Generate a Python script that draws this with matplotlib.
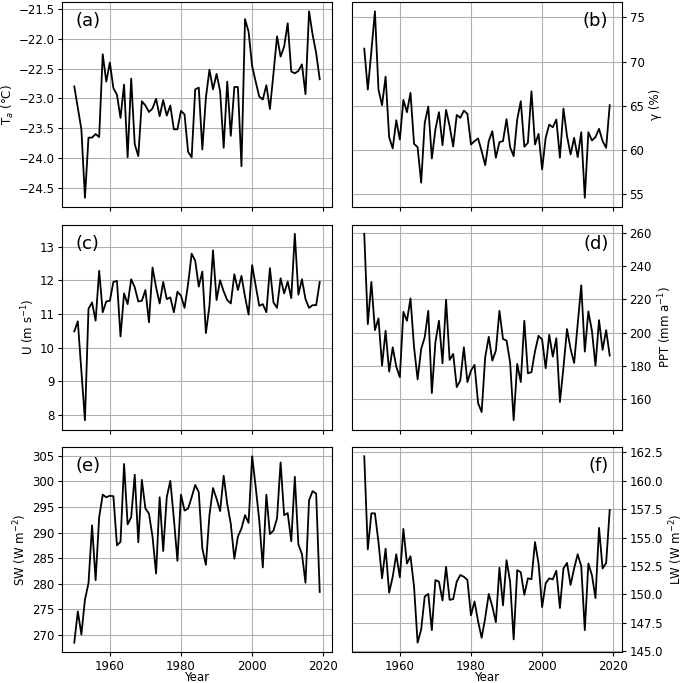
import numpy as np
import matplotlib.pyplot as plt
from matplotlib.ticker import MultipleLocator

years = np.arange(1950, 2020)

ta = [-22.80, -23.16, -23.52, -24.67, -23.66, -23.66, -23.60, -23.65, -22.26, -22.72,
      -22.40, -22.83, -22.94, -23.33, -22.77, -23.99, -22.67, -23.77, -23.97, -23.05,
      -23.12, -23.23, -23.17, -23.01, -23.30, -23.03, -23.29, -23.12, -23.52, -23.52,
      -23.21, -23.27, -23.90, -23.99, -22.85, -22.82, -23.86, -22.99, -22.52, -22.85,
      -22.59, -22.88, -23.83, -22.72, -23.63, -22.81, -22.81, -24.14, -21.67, -21.88,
      -22.46, -22.72, -22.97, -23.02, -22.78, -23.18, -22.58, -21.96, -22.30, -22.13,
      -21.74, -22.55, -22.58, -22.54, -22.43, -22.93, -21.54, -21.93, -22.24, -22.68]

gamma = [71.47, 66.84, 71.17, 75.68, 66.84, 65.08, 68.31, 61.47, 60.19, 63.38,
         61.20, 65.68, 64.29, 66.47, 60.71, 60.34, 56.32, 63.08, 64.92, 59.06,
         62.33, 64.29, 60.56, 64.55, 62.71, 60.41, 63.98, 63.65, 64.47, 64.10,
         60.64, 61.02, 61.32, 59.89, 58.31, 61.02, 62.14, 59.14, 60.90, 61.02,
         63.50, 60.34, 59.32, 63.46, 65.53, 60.38, 60.83, 66.65, 60.64, 61.84,
         57.82, 61.39, 62.89, 62.59, 63.46, 59.14, 64.70, 61.58, 59.51, 61.39,
         59.21, 62.03, 54.62, 62.03, 61.09, 61.47, 62.41, 61.02, 60.26, 65.08]

wind = [10.48, 10.78, 9.30, 7.84, 11.15, 11.34, 10.80, 12.28, 11.05, 11.37,
        11.39, 11.95, 11.98, 10.33, 11.61, 11.29, 12.03, 11.79, 11.37, 11.39,
        11.71, 10.75, 12.38, 11.79, 11.31, 11.95, 11.44, 11.49, 11.05, 11.66,
        11.54, 11.18, 11.89, 12.79, 12.58, 11.81, 12.26, 10.43, 11.24, 12.89,
        11.41, 12.00, 11.67, 11.41, 11.31, 12.18, 11.71, 12.13, 11.51, 10.98,
        12.45, 11.84, 11.24, 11.29, 11.05, 12.36, 11.34, 11.18, 12.06, 11.61,
        11.96, 11.47, 13.38, 11.57, 12.03, 11.44, 11.18, 11.26, 11.26, 11.95]

ppt = [259.4, 205.2, 230.5, 201.6, 208.6, 180.3, 201.2, 176.7, 191.3, 179.7,
       173.3, 212.6, 207.2, 220.6, 191.3, 172.0, 190.3, 197.3, 213.2, 163.8,
       194.3, 207.2, 181.7, 219.8, 183.7, 187.3, 167.4, 171.4, 191.3, 170.4,
       177.3, 180.7, 157.8, 152.4, 185.3, 197.6, 183.3, 189.3, 213.2, 196.3,
       195.3, 182.3, 147.5, 181.3, 170.4, 207.2, 175.7, 176.3, 188.9, 198.2,
       195.9, 178.7, 198.8, 185.7, 196.7, 158.4, 179.3, 202.2, 190.3, 181.9,
       205.2, 228.5, 188.7, 212.8, 201.2, 180.3, 207.6, 189.7, 201.6, 186.3]

sw = [268.5, 274.6, 270.1, 276.9, 280.1, 291.4, 280.7, 293.0, 297.4, 296.9,
      297.2, 297.1, 287.5, 288.2, 303.4, 291.6, 293.0, 301.3, 288.1, 300.3,
      294.7, 293.7, 289.2, 282.0, 296.9, 286.4, 296.9, 300.1, 292.7, 284.5,
      297.4, 294.3, 294.7, 296.9, 299.3, 297.9, 286.9, 283.7, 293.4, 298.7,
      296.6, 294.2, 301.1, 295.6, 291.7, 284.9, 289.2, 290.8, 293.4, 291.9,
      304.9, 298.9, 292.4, 283.2, 297.4, 289.7, 290.4, 292.8, 303.7, 293.4,
      293.8, 288.3, 300.9, 287.7, 285.8, 280.2, 296.3, 298.1, 297.6, 278.4]

lw_down = [162.15, 153.96, 157.13, 157.13, 154.60, 151.41, 154.02, 150.16, 151.55, 153.53,
           151.50, 155.76, 152.71, 153.35, 150.68, 145.75, 146.91, 149.81, 150.04, 146.85,
           151.26, 151.12, 149.46, 152.42, 149.52, 149.58, 151.12, 151.70, 151.55, 151.26,
           148.16, 149.38, 147.63, 146.18, 147.92, 150.04, 148.94, 147.55, 152.34, 149.03,
           153.01, 151.12, 146.04, 152.13, 151.95, 149.96, 151.41, 151.33, 154.60, 152.71,
           148.88, 150.97, 151.41, 151.32, 152.08, 148.80, 152.28, 152.77, 150.83, 152.28,
           153.53, 152.48, 146.85, 152.71, 151.70, 149.67, 155.85, 152.28, 152.77, 157.42]

series = [ta, gamma, wind, ppt, sw, lw_down]
ylabels = ["T$_a$ (°C)", "γ (%)", "U (m s$^{-1}$)", "PPT (mm a$^{-1}$)",
           "SW (W m$^{-2}$)", "LW (W m$^{-2}$)"]
tags = ["(a)", "(b)", "(c)", "(d)", "(e)", "(f)"]
steps = [0.5, 5, 1, 20, 5, 2.5]

fig, axes = plt.subplots(3, 2, figsize=(6.85, 6.83), dpi=100, sharex=True)
plt.subplots_adjust(left=0.0905, right=0.908, top=0.997, bottom=0.0454,
                    wspace=0.074, hspace=0.085)

for i, ax in enumerate(axes.flat):
    ax.plot(years, series[i], color="black", lw=1.3)
    ax.grid(True, color="#b0b0b0", lw=0.8)
    ax.set_axisbelow(True)
    ax.yaxis.set_major_locator(MultipleLocator(steps[i]))
    ax.xaxis.set_major_locator(MultipleLocator(20))
    ax.tick_params(labelsize=8.5, length=3, pad=2.5)
    if i % 2 == 1:
        ax.yaxis.tick_right()
        ax.yaxis.set_label_position("right")
        ax.set_ylabel(ylabels[i], fontsize=8.5, labelpad=3)
        ax.text(0.95, 0.95, tags[i], transform=ax.transAxes, fontsize=13,
                ha="right", va="top")
    else:
        ax.set_ylabel(ylabels[i], fontsize=8.5, labelpad=2)
        ax.text(0.05, 0.95, tags[i], transform=ax.transAxes, fontsize=13,
                ha="left", va="top")

for ax in axes[2]:
    ax.set_xlabel("Year", fontsize=8.5, labelpad=-1)

plt.savefig("out.png")
